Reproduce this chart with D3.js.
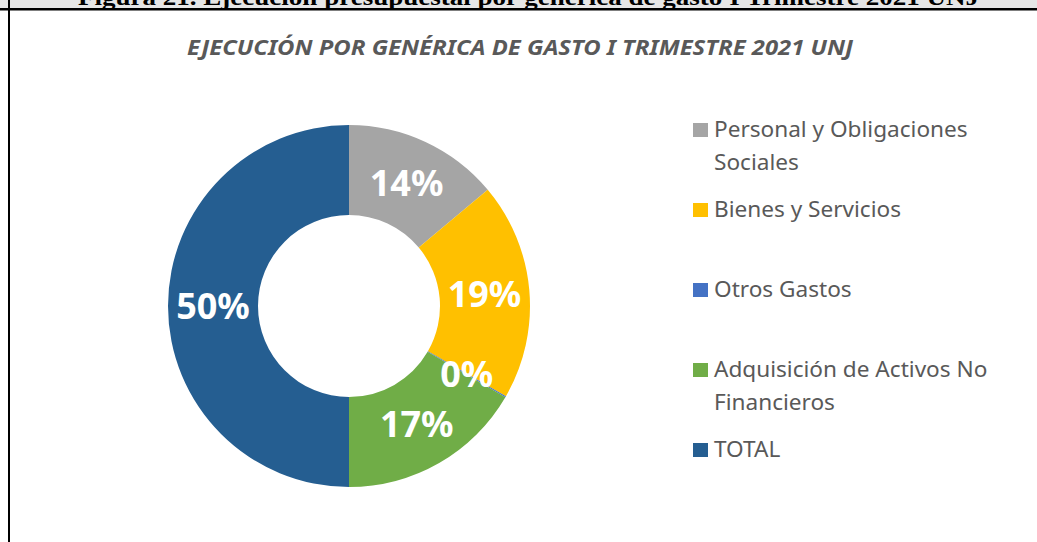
<!DOCTYPE html>
<html>
<head>
<meta charset="utf-8">
<script src="https://cdn.jsdelivr.net/npm/d3@7"></script>
<style>
	html, body { margin: 0; padding: 0; background: #fff; overflow: hidden; }
</style>
</head>
<body>
<div id="chart"></div>
<script>
// chart data
const categories = ["Personal y Obligaciones Sociales", "Bienes y Servicios", "Otros Gastos", "Adquisición de Activos No Financieros", "TOTAL"];
const values = [13.9, 19.4, 0.1, 16.6, 50.0];
const colors = ["#a5a5a5", "#ffc000", "#4472c4", "#70ad47", "#255e91"];
const caption = "Figura 21. Ejecución presupuestal por genérica de gasto I Trimestre 2021 UNJ";
const title = "EJECUCIÓN POR GENÉRICA DE GASTO I TRIMESTRE 2021 UNJ";

let W = 1037, H = 542;
let svg = d3.select("#chart")
			.append("svg")
			.attr("width", W)
			.attr("height", H);

//document frame: gray caption band, rules
svg.append("rect").attr("x", 0).attr("y", 0).attr("width", W).attr("height", 8).attr("fill", "#e6e6e6");
svg.append("text")
	.attr("x", 78)
	.attr("y", 5)
	.attr("textLength", 901)
	.attr("lengthAdjust", "spacingAndGlyphs")
	.style("font", "bold 24px 'Liberation Serif', 'DejaVu Serif', serif")
	.attr("fill", "#000")
	.text(caption);
svg.append("rect").attr("x", 0).attr("y", 8).attr("width", W).attr("height", 2.5).attr("fill", "#000");
svg.append("rect").attr("x", 8).attr("y", 0).attr("width", 2).attr("height", H).attr("fill", "#000");

//chart title
svg.append("text")
	.attr("x", 187)
	.attr("y", 55)
	.attr("textLength", 666)
	.attr("lengthAdjust", "spacingAndGlyphs")
	.style("font", "italic bold 21px 'Noto Sans', 'Open Sans', sans-serif")
	.attr("fill", "#595959")
	.text(title);

//donut
let cx = 349, cy = 306, rOuter = 181, rInner = 91;
let data = categories.map(function(c, i) { return {name: c, value: values[i], color: colors[i]}; });
let total = d3.sum(values);
let pie = d3.pie().sort(null).value(function(d) { return d.value; });
let arc = d3.arc().innerRadius(rInner).outerRadius(rOuter);
let labelArc = d3.arc().innerRadius((rInner + rOuter) / 2).outerRadius((rInner + rOuter) / 2);
let fmt = d3.format(".0%");

let g = svg.append("g").attr("transform", "translate(" + cx + "," + cy + ")");
let arcs = pie(data);
g.selectAll(".slice")
	.data(arcs)
	.enter()
	.append("path")
	.attr("class", "slice")
	.attr("d", arc)
	.attr("fill", function(d) { return d.data.color; });

g.selectAll(".lbl")
	.data(arcs)
	.enter()
	.append("text")
	.attr("class", "lbl")
	.attr("transform", function(d) { return "translate(" + labelArc.centroid(d) + ")"; })
	.attr("text-anchor", "middle")
	.attr("dy", "0.36em")
	.style("font", "bold 36px 'Noto Sans', 'Open Sans', sans-serif")
	.attr("fill", "#fff")
	.text(function(d) { return fmt(d.data.value / total); });

//legend
let legend = svg.append("g").attr("transform", "translate(693,123)");
let rowStep = 80, lineH = 33, maxW = 300;
let items = legend.selectAll(".item")
	.data(data)
	.enter()
	.append("g")
	.attr("class", "item")
	.attr("transform", function(d, i) { return "translate(0," + (i * rowStep) + ")"; });
items.append("rect")
	.attr("width", 15)
	.attr("height", 14)
	.attr("fill", function(d) { return d.color; });
items.each(function(d) {
	let t = d3.select(this).append("text")
		.attr("x", 21)
		.attr("y", 14)
		.style("font", "22.6px 'Noto Sans', 'Open Sans', sans-serif")
		.attr("fill", "#595959");
	//wrap words to fit width
	let words = d.name.split(" "), line = [];
	let tspan = t.append("tspan").attr("x", 21).attr("dy", 0);
	words.forEach(function(w) {
		line.push(w);
		tspan.text(line.join(" "));
		if (tspan.node().getComputedTextLength() > maxW && line.length > 1) {
			line.pop();
			tspan.text(line.join(" "));
			line = [w];
			tspan = t.append("tspan").attr("x", 21).attr("dy", lineH).text(w);
		}
	});
});
</script>
</body>
</html>
